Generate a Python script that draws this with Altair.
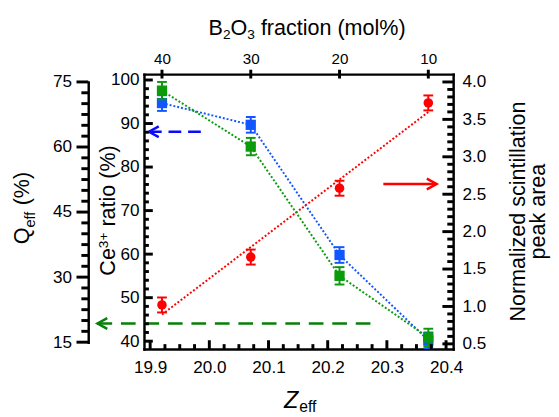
import altair as alt
import pandas as pd

# ---------------- data ----------------
z_eff = [19.92, 20.07, 20.22, 20.37]
b2o3_fraction = [40, 30, 20, 10]

ce3_ratio = [94.7, 89.7, 59.8, 40.2]      # Ce3+ ratio (%)  -> inner left axis (blue)
ce3_err = [1.8, 1.8, 1.8, 1.8]
q_eff = [73.0, 60.1, 30.3, 16.1]          # Q_eff (%)       -> outer left axis (green)
q_err = [2.0, 2.0, 2.0, 2.0]
peak_area = [1.02, 1.66, 2.58, 3.72]      # normalized scintillation peak area -> right axis (red)
peak_err = [0.1, 0.1, 0.1, 0.1]

# axis ticks
x_major = [19.9, 20.0, 20.1, 20.2, 20.3, 20.4]
x_minor = [round(19.9 + 0.025 * i, 3) for i in range(21) if i % 4]
ce_major = [40, 50, 60, 70, 80, 90, 100]
ce_minor = [v for v in range(40, 101, 2) if v % 10]
q_major = [15, 30, 45, 60, 75]
q_minor = [15 + 2.5 * i for i in range(25) if i % 6]
r_major = [0.5, 1.0, 1.5, 2.0, 2.5, 3.0, 3.5, 4.0]
r_minor = [round(0.5 + 0.1 * i, 1) for i in range(36) if i % 5]

# annotation arrows: tip z, tail z, level (in the series' own units)
ce_arrow = [19.898, 19.987, 88.1]
q_arrow = [19.811, 20.286, 19.3]
r_arrow = [20.384, 20.294, 2.636]

# ---------------- layout ----------------
W, H = 316, 281
Q_OFF = 57
FONT = "Liberation Sans"
BLUE, BLUE_ARROW = "#1256ff", "#0a0aff"
GREEN, GREEN_ARROW = "#0a9a0a", "#078007"
RED = "#ff0000"
TICK = "#000000"

xs = alt.Scale(domain=[19.8896, 20.412], nice=False, zero=False)
ce_s = alt.Scale(domain=[38.2, 101.35], nice=False, zero=False)
q_s = alt.Scale(domain=[15, 75], range=[274, 8], nice=False, zero=False)
r_s = alt.Scale(domain=[0.431, 4.105], nice=False, zero=False)

one = pd.DataFrame({"a": [0]})
anchor = pd.DataFrame({"z": z_eff, "v": ce3_ratio})


def ax(orient, values, pad, fs=17.5, fmt=None, expr=None, offset=0):
    kw = dict(orient=orient, values=values, labels=True, domain=True, ticks=False,
              grid=False, title=None, offset=offset,
              domainColor="black", domainWidth=2.5, domainCap="square",
              labelFont=FONT, labelFontSize=fs, labelColor="black",
              labelPadding=pad, labelFlush=False, labelOverlap=False)
    if fmt:
        kw["format"] = fmt
    if expr:
        kw["labelExpr"] = expr
    return alt.Axis(**kw)


def axis_layer(yscale, yaxis, xaxis):
    return alt.Chart(anchor).mark_point(opacity=0).encode(
        x=alt.X("z:Q", scale=xs, axis=xaxis),
        y=alt.Y("v:Q", scale=yscale, axis=yaxis),
    )


top_expr = "[%s][indexof([%s], datum.value)]" % (
    ",".join("'%d'" % b for b in b2o3_fraction), ",".join(str(z) for z in z_eff))

axis_layers = [
    axis_layer(ce_s, ax("left", ce_major, pad=5),
               ax("bottom", x_major, pad=10, fmt=".1f")),
    axis_layer(q_s, ax("left", q_major, pad=17, offset=Q_OFF),
               ax("top", z_eff, pad=8, fs=15.5, expr=top_expr)),
    axis_layer(r_s, ax("right", r_major, pad=9, fmt=".1f"), None),
]


def yticks(values, yscale, length, xpos):
    # horizontal tick of `length` px centred at pixel column `xpos`
    return alt.Chart(pd.DataFrame({"tv": values})).mark_tick(
        color=TICK, orient="horizontal", size=length, thickness=3, opacity=1).encode(
        y=alt.Y("tv:Q", scale=yscale, axis=None), x=alt.value(xpos))


def xticks(values, length, ypos):
    return alt.Chart(pd.DataFrame({"tv": values})).mark_tick(
        color=TICK, orient="vertical", size=length, thickness=3, opacity=1).encode(
        x=alt.X("tv:Q", scale=xs, axis=None), y=alt.value(ypos))


tick_layers = [
    yticks(ce_major, ce_s, 9, 4.5),
    yticks(ce_minor, ce_s, 5, 2.5),
    yticks(q_major, q_s, 12, -Q_OFF - 6),
    yticks(q_minor, q_s, 7, -Q_OFF - 3.5),
    yticks(r_major, r_s, 11, W - 5.5),
    yticks(r_minor, r_s, 6, W - 3),
    xticks(x_major, 9, H - 4.5),
    xticks(x_minor, 5, H - 2.5),
    xticks(z_eff, 9, 0),
]


def series(values, errs, yscale, color, marker, arrow, arrow_color, head, dash=None, fit=False):
    df = pd.DataFrame({"z": z_eff, "v": values,
                       "lo": [v - e for v, e in zip(values, errs)],
                       "hi": [v + e for v, e in zip(values, errs)]})
    adf = pd.DataFrame({"tip": [arrow[0]], "tail": [arrow[1]], "lvl": [arrow[2]]})
    x = alt.X("z:Q", scale=xs, axis=None)
    base = alt.Chart(df)
    if fit:
        base = base.transform_regression("z", "v")
    line = base.mark_line(color=color, strokeDash=[2, 2], strokeWidth=2).encode(
        x=x, y=alt.Y("v:Q", scale=yscale, axis=None))
    err = alt.Chart(df).mark_rule(color=color, strokeWidth=2).encode(
        x=x, y=alt.Y("lo:Q", scale=yscale, axis=None), y2="hi:Q")
    cap_lo = alt.Chart(df).mark_tick(color=color, orient="horizontal", size=10,
                                     thickness=2, opacity=1).encode(
        x=x, y=alt.Y("lo:Q", scale=yscale, axis=None))
    cap_hi = alt.Chart(df).mark_tick(color=color, orient="horizontal", size=10,
                                     thickness=2, opacity=1).encode(
        x=x, y=alt.Y("hi:Q", scale=yscale, axis=None))
    if marker == "square":
        pts = alt.Chart(df).mark_square(color=color, size=110, opacity=1)
    else:
        pts = alt.Chart(df).mark_circle(color=color, size=95, opacity=1)
    pts = pts.encode(x=x, y=alt.Y("v:Q", scale=yscale, axis=None))
    rule_kw = dict(color=arrow_color, strokeWidth=2.5)
    if dash:
        rule_kw["strokeDash"] = dash
    arr = alt.Chart(adf).mark_rule(**rule_kw).encode(
        x=alt.X("tip:Q", scale=xs, axis=None), x2="tail:Q",
        y=alt.Y("lvl:Q", scale=yscale, axis=None))
    hd = alt.Chart(adf).mark_point(shape=head, filled=False, size=100, strokeWidth=2.5,
                                   color=arrow_color, opacity=1).encode(
        x=alt.X("tip:Q", scale=xs, axis=None), y=alt.Y("lvl:Q", scale=yscale, axis=None))
    return alt.layer(line, err, cap_lo, cap_hi, pts, arr, hd)


LEFT_HEAD = "M2,-1.1L0,0L2,1.1"
RIGHT_HEAD = "M-2,-1.1L0,0L-2,1.1"

red_group = series(peak_area, peak_err, r_s, RED, "circle", r_arrow, RED, RIGHT_HEAD, fit=True)
blue_group = series(ce3_ratio, ce3_err, ce_s, BLUE, "square", ce_arrow, BLUE_ARROW, LEFT_HEAD, dash=[13, 7])
green_group = series(q_eff, q_err, q_s, GREEN, "square", q_arrow, GREEN_ARROW, LEFT_HEAD, dash=[15, 9])

# ---------------- titles (composed pieces for sub/superscripts) ----------------
CW = {' ': 278, '(': 333, ')': 333, '%': 889, 'Q': 778, 'e': 556, 'f': 278, 'C': 722,
      '3': 556, '+': 584, 'r': 333, 'a': 556, 't': 278, 'i': 222, 'o': 556, 'B': 667,
      'O': 778, '2': 556, 'c': 500, 'n': 556, 'm': 833, 'l': 222, 'Z': 611}


def adv(s, fs):
    return sum(CW[c] for c in s) / 1000 * fs


def txt(t, x, y, fs, angle=0, align="left", italic=False):
    kw = dict(text=t, fontSize=fs, font=FONT, align=align, baseline="alphabetic", color="black")
    if angle:
        kw["angle"] = angle
    if italic:
        kw["fontStyle"] = "italic"
    return alt.Chart(one).mark_text(**kw).encode(x=alt.value(x), y=alt.value(y))


texts = []
# top title: B2O3 fraction (mol%)
x0, yb = 66.0, -39.5
texts.append(txt("B", x0, yb, 22)); x0 += adv("B", 22)
texts.append(txt("2", x0, yb + 4, 14)); x0 += adv("2", 14)
texts.append(txt("O", x0, yb, 22)); x0 += adv("O", 22)
texts.append(txt("3", x0, yb + 4, 14)); x0 += adv("3", 14) + adv(" ", 22)
texts.append(txt("fraction (mol%)", x0, yb, 22))
# bottom title: Z_eff
texts.append(txt("Z", 143, 341, 24, italic=True))
texts.append(txt("eff", 143 + adv("Z", 24) + 1, 345, 16))
# outer left title: Q_eff (%)
y0 = 174.0
texts.append(txt("Q", -117.5, y0, 22, angle=270)); y0 -= adv("Q", 22)
texts.append(txt("eff", -111.5, y0, 15, angle=270)); y0 -= adv("eff", 15) + adv(" ", 22)
texts.append(txt("(%)", -117.5, y0, 22, angle=270))
# inner left title: Ce3+ ratio (%)
y0 = 206.0
texts.append(txt("Ce", -29.5, y0, 22, angle=270)); y0 -= adv("Ce", 22)
texts.append(txt("3+", -37.0, y0, 14, angle=270)); y0 -= adv("3+", 14) + adv(" ", 22)
texts.append(txt("ratio (%)", -29.5, y0, 22, angle=270))
# right title (two lines)
texts.append(txt("Normalized scintillation", 389.5, 140.5, 22, angle=270, align="center"))
texts.append(txt("peak area", 409.5, 140.5, 22, angle=270, align="center"))

chart = alt.layer(*axis_layers, red_group, blue_group, green_group, *tick_layers,
                  *texts).resolve_scale(
    y="independent").resolve_axis(x="independent").properties(
    width=W, height=H,
    autosize=alt.AutoSizeParams(type="none"),
    padding={"left": 139, "top": 63, "right": 100, "bottom": 70},
).configure_view(stroke=None)

chart.save("out.html", embed_options={"renderer": "svg", "actions": False})
